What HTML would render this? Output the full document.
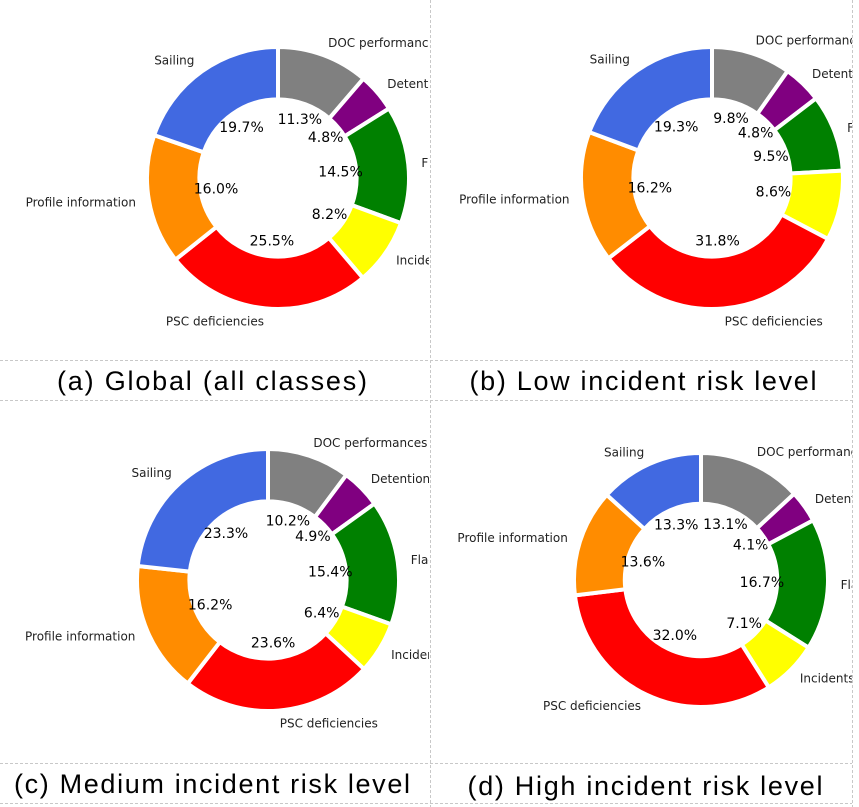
<!DOCTYPE html>
<html><head><meta charset="utf-8"><style>
html,body{margin:0;padding:0;background:#fff;}
svg{display:block;font-family:"DejaVu Sans","Liberation Sans",sans-serif;}
.t{font-family:"Liberation Sans",Arial,sans-serif;font-size:27px;fill:#000;}
</style></head><body>
<svg id="fig" width="859" height="807" viewBox="0 0 859 807">
<defs>
<clipPath id="cl"><rect x="0" y="0" width="429" height="807"/></clipPath>
<clipPath id="cr"><rect x="431" y="0" width="421" height="807"/></clipPath>
</defs>
<g stroke="#c8c8c8" stroke-width="1" stroke-dasharray="3,2">
<line x1="430.5" y1="0" x2="430.5" y2="807"/>
<line x1="852.5" y1="0" x2="852.5" y2="807"/>
<line x1="0" y1="360.5" x2="852" y2="360.5"/>
<line x1="0" y1="400.5" x2="852" y2="400.5"/>
<line x1="0" y1="763.5" x2="852" y2="763.5"/>
<line x1="0" y1="803.5" x2="852" y2="803.5"/>
</g>
<text class="t" x="212" y="390" text-anchor="middle" textLength="310">(a) Global (all classes)</text>
<text class="t" x="643" y="390" text-anchor="middle" textLength="347">(b) Low incident risk level</text>
<text class="t" x="212" y="793" text-anchor="middle" textLength="396">(c) Medium incident risk level</text>
<text class="t" x="645" y="795" text-anchor="middle" textLength="355">(d) High incident risk level</text>
</svg>
<script>
const categories = ["DOC performances","Detentions","Flag","Incidents","PSC deficiencies","Profile information","Sailing"];
const colors = ["#808080","#800080","#008000","#ffff00","#ff0000","#ff8c00","#4169e1"];
const globalValues = [11.3,4.8,14.5,8.2,25.5,16.0,19.7];
const lowValues = [9.8,4.8,9.5,8.6,31.8,16.2,19.3];
const mediumValues = [10.2,4.9,15.4,6.4,23.6,16.2,23.3];
const highValues = [13.1,4.1,16.7,7.1,32.0,13.6,13.3];

const NS = "http://www.w3.org/2000/svg";
const svg = document.getElementById("fig");
const panels = [
  {key:"global", vals:globalValues, cx:278, cy:178, r:131, clip:"cl"},
  {key:"low", vals:lowValues, cx:712, cy:178, r:131, clip:"cr"},
  {key:"medium", vals:mediumValues, cx:268, cy:580, r:131, clip:"cl"},
  {key:"high", vals:highValues, cx:701, cy:580, r:127, clip:"cr"}
];
function pt(cx, cy, rad, frac) {
  const a = frac * 2 * Math.PI; // clockwise from top
  return [cx + rad * Math.sin(a), cy - rad * Math.cos(a)];
}
panels.forEach(p => {
  const g = document.createElementNS(NS, "g");
  
  
  g.setAttribute("clip-path", "url(#" + p.clip + ")");
  svg.appendChild(g);
  const total = p.vals.reduce((a, b) => a + b, 0);
  const ri = p.r * 0.6;
  let cum = 0;
  p.vals.forEach((v, i) => {
    const f0 = cum / total, f1 = (cum + v) / total, fm = (f0 + f1) / 2;
    cum += v;
    const large = (f1 - f0) > 0.5 ? 1 : 0;
    const a = pt(p.cx, p.cy, p.r, f0), b = pt(p.cx, p.cy, p.r, f1);
    const c = pt(p.cx, p.cy, ri, f1), d = pt(p.cx, p.cy, ri, f0);
    const path = document.createElementNS(NS, "path");
    
    
    path.setAttribute("d", `M${a[0]},${a[1]} A${p.r},${p.r} 0 ${large} 1 ${b[0]},${b[1]} L${c[0]},${c[1]} A${ri},${ri} 0 ${large} 0 ${d[0]},${d[1]} Z`);
    path.setAttribute("fill", colors[i]);
    path.setAttribute("stroke", "#fff");
    path.setAttribute("stroke-width", "4");
    path.setAttribute("stroke-linejoin", "miter");
    g.appendChild(path);
    const lp = pt(p.cx, p.cy, p.r * 1.1, fm);
    const lab = document.createElementNS(NS, "text");
    
    
    lab.setAttribute("x", lp[0]);
    lab.setAttribute("y", lp[1] + 4);
    lab.setAttribute("font-size", "12");
    lab.setAttribute("fill", "#222");
    lab.setAttribute("text-anchor", lp[0] >= p.cx ? "start" : "end");
    lab.textContent = categories[i];
    g.appendChild(lab);
    const pp = pt(p.cx, p.cy, p.r * 0.48, fm);
    const pc = document.createElementNS(NS, "text");
    
    
    pc.setAttribute("x", pp[0]);
    pc.setAttribute("y", pp[1] + 5);
    pc.setAttribute("font-size", "14");
    pc.setAttribute("fill", "#000");
    pc.setAttribute("text-anchor", "middle");
    pc.textContent = v.toFixed(1) + "%";
    g.appendChild(pc);
  });
});
</script>
</body></html>
